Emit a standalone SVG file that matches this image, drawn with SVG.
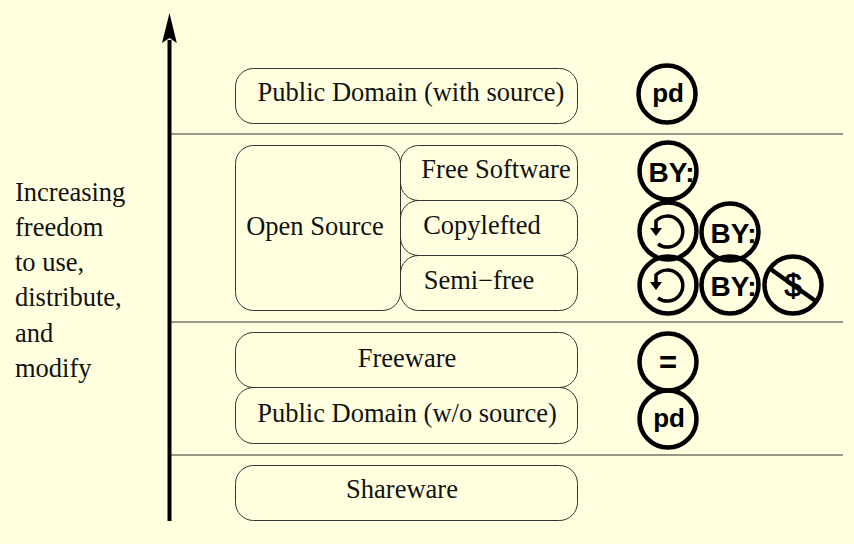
<svg xmlns="http://www.w3.org/2000/svg" width="854" height="544" viewBox="0 0 854 544">
<style>
.b{fill:none;stroke:#333;stroke-width:1}
.t{font-family:"Liberation Serif",serif;font-size:26.500px;fill:#111}
.m{text-anchor:middle}
.sep{stroke:#77776a;stroke-width:1.400;fill:none}
.c{fill:none;stroke:#000;stroke-width:4.500}
.s{font-family:"Liberation Sans",sans-serif;font-weight:bold;fill:#000;text-anchor:middle}
.r{fill:none;stroke:#000;stroke-width:3.500}
</style>
<defs>
<g id="ci"><circle class="c" r="28.500"/></g>
<g id="by"><use href="#ci"/><text class="s" x="3.500" y="10.500" font-size="28">BY:</text></g>
<g id="pd"><use href="#ci"/><text class="s" x="1" y="8" font-size="26">pd</text></g>
<g id="sa"><use href="#ci"/><path class="r" d="M-12 -3V-10A15.500 15.500 0 1 1 -10 13"/><path d="M-18 -3L-6 -3L-12 5Z" fill="#000"/></g>
</defs>
<rect width="854" height="544" fill="#ffffe0"/>
<g id="connectors">
<path class="sep" d="M170 134H843M170 322H843M170 455H843"/>
<path d="M169.500 40V521" stroke="#000" stroke-width="4" fill="none"/>
<path d="M169.500 13L176.800 43L169.500 38L162 43Z" fill="#000"/>
</g>
<g id="axis-label" class="t">
<text x="15" y="201">Increasing</text><text x="15" y="236">freedom</text><text x="15" y="271">to use,</text><text x="15" y="306">distribute,</text><text x="15" y="342">and</text><text x="15" y="377">modify</text>
</g>
<g id="public-domain-source"><rect class="b" x="235.500" y="68.500" width="342" height="55" rx="18"/><text class="t m" x="411" y="101">Public Domain (with source)</text></g>
<g id="open-source"><rect class="b" x="235.500" y="145.500" width="165" height="165" rx="18"/><text class="t m" x="315" y="235">Open Source</text></g>
<g id="free-software"><rect class="b" x="400.500" y="145.500" width="177" height="55" rx="18"/><text class="t m" x="496" y="178">Free Software</text></g>
<g id="copylefted"><rect class="b" x="400.500" y="200.500" width="177" height="55" rx="18"/><text class="t m" x="482" y="234">Copylefted</text></g>
<g id="semi-free"><rect class="b" x="400.500" y="255.500" width="177" height="55" rx="18"/><text class="t m" x="479" y="289">Semi−free</text></g>
<g id="freeware"><rect class="b" x="235.500" y="332.500" width="342" height="55" rx="18"/><text class="t m" x="407" y="367">Freeware</text></g>
<g id="public-domain-no-source"><rect class="b" x="235.500" y="387.500" width="342" height="56" rx="18"/><text class="t m" x="407" y="422">Public Domain (w/o source)</text></g>
<g id="shareware"><rect class="b" x="235.500" y="465.500" width="342" height="55" rx="18"/><text class="t m" x="402" y="498">Shareware</text></g>
<g id="icons">
<use href="#pd" x="667" y="94"/>
<use href="#by" x="668" y="171"/>
<use href="#sa" x="668" y="231"/>
<use href="#by" x="730" y="232"/>
<use href="#sa" x="668" y="285"/>
<use href="#by" x="730" y="285"/>
<g><use href="#ci" x="793" y="285"/><text x="793" y="296" font-size="31" font-family="Liberation Sans,sans-serif" text-anchor="middle" fill="#000" stroke="#000" stroke-width="0.800">$</text><path d="M769 268L817 302" stroke="#000" stroke-width="4.500"/></g>
<g><use href="#ci" x="668" y="362"/><text class="s" x="668" y="373" font-size="31">=</text></g>
<use href="#pd" x="668" y="419"/>
</g>
</svg>
